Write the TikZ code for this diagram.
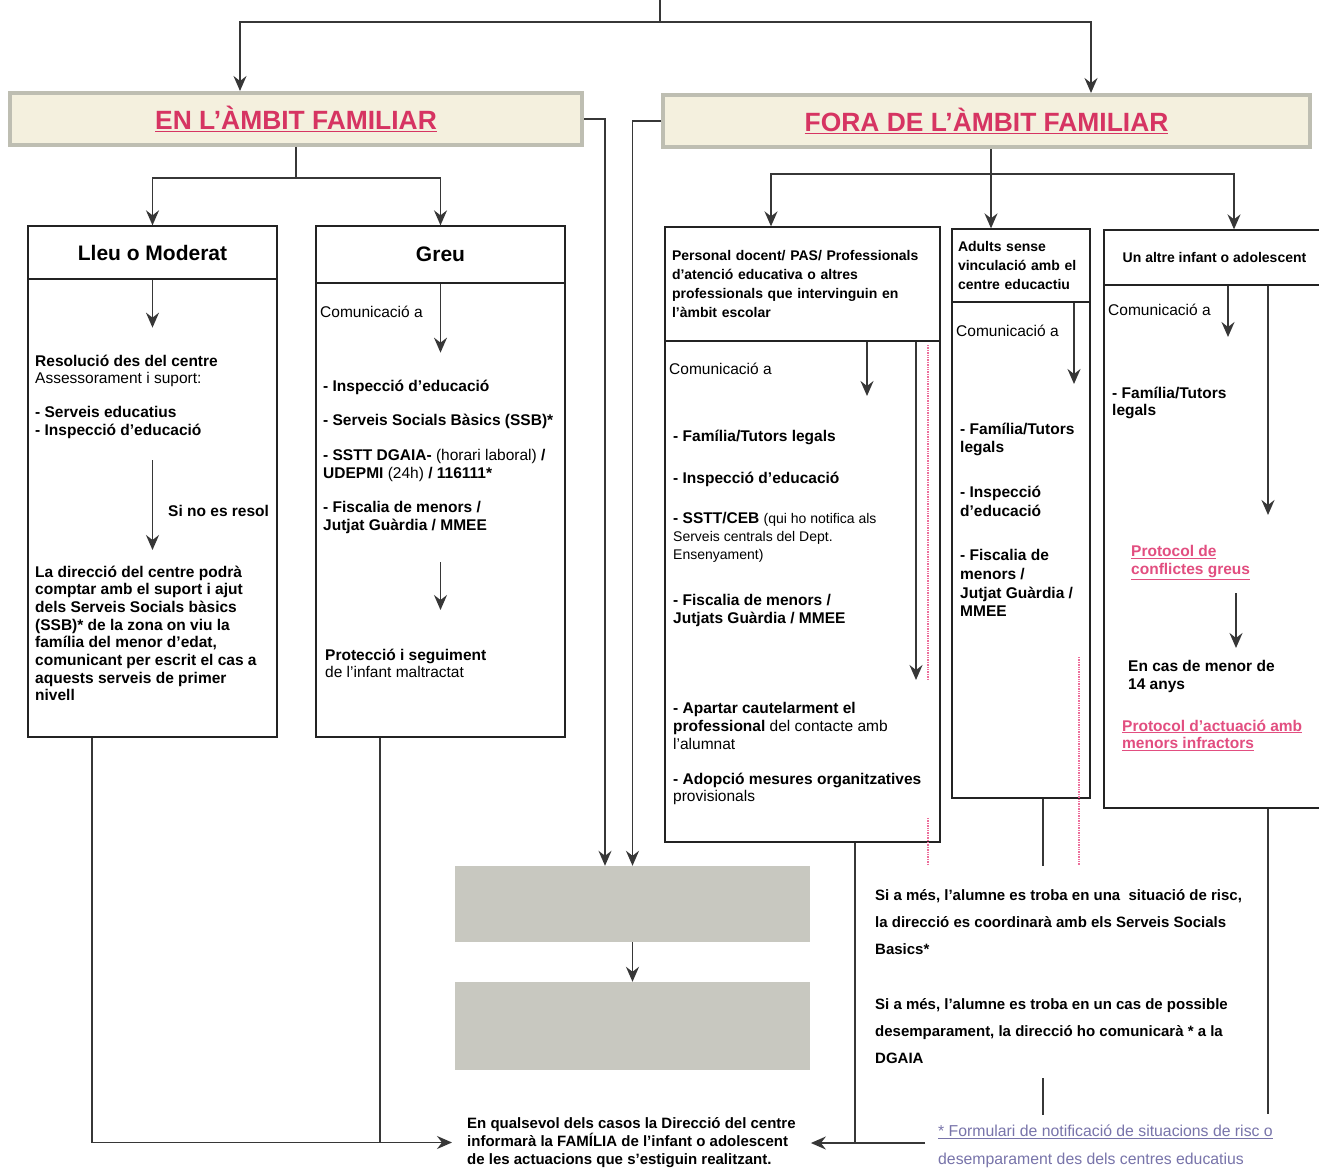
\documentclass[tikz,border=0pt]{standalone}
\usepackage{fontspec}
\setmainfont{Liberation Sans}
\usetikzlibrary{arrows.meta}

\definecolor{hdrred}{RGB}{214,52,98}
\definecolor{linkpink}{RGB}{226,78,128}
\definecolor{notepurple}{RGB}{120,116,170}
\definecolor{hdrfill}{RGB}{244,240,222}
\definecolor{hdredge}{RGB}{190,190,178}
\definecolor{greyfill}{RGB}{200,200,192}
\definecolor{linegrey}{RGB}{55,55,55}
\definecolor{boxline}{RGB}{35,35,35}
\definecolor{dotpink}{RGB}{236,110,155}

\newcommand\bodyfont{\fontsize{15.5}{17.7}\selectfont}
\newcommand\smallfont{\fontsize{14}{19}\selectfont\bfseries}
\newcommand\ttlfont{\fontsize{21}{25}\selectfont\bfseries}
\newcommand\hdrfont{\fontsize{26.4}{30}\selectfont\bfseries}
\newcommand\topstrut{\rule{0pt}{14pt}}

\begin{document}
\begin{tikzpicture}[x=1pt, y=-1pt,
  conn/.style = {draw=linegrey, line width=1.6pt},
  arr/.style = {conn, -{Stealth[length=15pt, width=13pt, inset=5pt]}},
  hdr/.style = {draw=hdredge, line width=4pt, fill=hdrfill,
    text=hdrred, font=\hdrfont, inner sep=0pt},
  ttl/.style = {draw=boxline, line width=1.3pt, inner sep=0pt, align=center},
  cell/.style = {draw=boxline, line width=1.3pt, inner sep=0pt},
  txt/.style = {anchor=north west, inner sep=0pt, align=left, yshift=-3.5pt,
    font=\bodyfont, execute at begin node=\topstrut},
  link/.style = {txt, text=linkpink, font=\bodyfont\bfseries},
  gbox/.style = {fill=greyfill, inner sep=0pt, minimum width=355pt},
  pinkdot/.style = {draw=dotpink, line width=2.2pt, dash pattern=on 1.4pt off 1pt}]

  \fill[white] (0,0) rectangle (1319,1169);
  \useasboundingbox (0,0) rectangle (1319,1169);

  % headers
  \node[hdr, minimum width=572pt, minimum height=52pt] (famhdr) at (296,119)
    {\underline{EN L'ÀMBIT FAMILIAR}};
  \node[hdr, minimum width=647pt, minimum height=52pt] (forahdr) at (986.5,121)
    {\underline{FORA DE L'ÀMBIT FAMILIAR}};

  \coordinate (top) at (660,0);
  \coordinate (split) at (660,22);
  \draw[conn] (top) -- (split);
  \draw[arr] (split) -| ([xshift=-56pt]famhdr.north);
  \draw[arr] (split) -| ([xshift=104.5pt]forahdr.north);

  % en l'ambit familiar
  \node[ttl, minimum width=249pt, minimum height=53pt, font=\ttlfont] (lleu) at (152.5,252.5) {Lleu o Moderat};
  \node[cell, minimum width=249pt, minimum height=458pt] (lleubody) at (152.5,508) {};
  \node[ttl, minimum width=249pt, minimum height=57pt, font=\ttlfont] (greu) at (440.5,254.5) {Greu};
  \node[cell, minimum width=249pt, minimum height=454pt] (greubody) at (440.5,510) {};

  \draw[conn] (famhdr.south) -- ++(0,31) coordinate (famsplit);
  \draw[arr] (famsplit) -| (lleu.north);
  \draw[arr] (famsplit) -| (greu.north);

  \draw[arr] (lleu.south) -- ++(0,48);
  \node[txt] (lleures) at (35,351) {\textbf{Resolució des del centre}\\
    Assessorament i suport:\\[16pt]
    \textbf{- Serveis educatius}\\
    \textbf{- Inspecció d’educació}};
  \coordinate (lleuA) at (152.5,460);
  \coordinate (lleuB) at (152.5,550);
  \draw[arr] (lleuA) -- (lleuB);
  \node[txt, font=\bodyfont\bfseries] (resol) at (168,499) {Si no es resol};
  \node[txt, font=\bodyfont\bfseries] (lleudir) at (35,562) {La direcció del centre podrà\\
    comptar amb el suport i ajut\\
    dels Serveis Socials bàsics\\
    (SSB)* de la zona on viu la\\
    família del menor d’edat,\\
    comunicant per escrit el cas a\\
    aquests serveis de primer\\
    nivell};

  \draw[arr] (greu.south) -- ++(0,69);
  \node[txt] (greucom) at (320,300) {Comunicació a};
  \node[txt] (greulist) at (323,376) {\textbf{- Inspecció d'educació}\\[17pt]
    \textbf{- Serveis Socials Bàsics (SSB)*}\\[17pt]
    \textbf{- SSTT DGAIA-} (horari laboral) \textbf{/}\\
    \textbf{UDEPMI} (24h) \textbf{/ 116111*}\\[17pt]
    \textbf{- Fiscalia de menors /}\\
    \textbf{Jutjat Guàrdia / MMEE}};
  \coordinate (greuA) at (440.5,562);
  \coordinate (greuB) at (440.5,610);
  \draw[arr] (greuA) -- (greuB);
  \node[txt] (greuprot) at (325,645) {\textbf{Protecció i seguiment}\\
    de l'infant maltractat};

  % fora de l'ambit familiar
  \node[ttl, minimum width=275pt, minimum height=114pt, text width=261pt, align=left,
    inner xsep=7pt, font=\smallfont] (pers) at (802.5,284)
    {Personal docent/ PAS/ Professionals\\
     d'atenció educativa o altres\\
     professionals que intervinguin en\\
     l'àmbit escolar};
  \node[cell, minimum width=275pt, minimum height=501pt] (persbody) at (802.5,591.5) {};
  \node[ttl, minimum width=138pt, minimum height=73pt, text width=126pt, align=left,
    inner xsep=6pt, font=\smallfont] (adults) at (1021,265.5)
    {Adults sense\\ vinculació amb el\\ centre educactiu};
  \node[cell, minimum width=138pt, minimum height=496pt] (adultsbody) at (1021,550) {};
  \node[ttl, minimum width=221pt, minimum height=55pt, font=\smallfont] (altre) at (1214.5,257.5)
    {Un altre infant o adolescent};
  \node[cell, minimum width=221pt, minimum height=523pt] (altrebody) at (1214.5,546.5) {};

  \draw[conn] ([xshift=4.5pt]forahdr.south) -- ++(0,25) coordinate (forasplit);
  \draw[arr] (forasplit) -| ([xshift=-31.5pt]pers.north);
  \draw[arr] (forasplit) -- (forasplit |- adults.north);
  \draw[arr] (forasplit) -| ([xshift=19.5pt]altre.north);

  \coordinate (persA) at (867,396);
  \coordinate (persB) at (916,680);
  \draw[arr] (pers.south -| persA) -- (persA);
  \draw[arr] (pers.south -| persB) -- (persB);
  \draw[pinkdot] (928,345) -- (928,680);
  \draw[pinkdot] (928,818) -- (928,865);
  \node[txt] (perscom) at (669,357) {Comunicació a};
  \node[txt] (persfam) at (673,424) {\textbf{- Família/Tutors legals}};
  \node[txt] (persinsp) at (673,466) {\textbf{- Inspecció d'educació}};
  \node[txt] (perssstt) at (673,509) {\textbf{- SSTT/CEB} {\fontsize{14}{17.7}\selectfont(qui ho notifica als}\\
    {\fontsize{14}{17.7}\selectfont Serveis centrals del Dept.}\\
    {\fontsize{14}{17.7}\selectfont Ensenyament)}};
  \node[txt] (persfisc) at (673,591) {\textbf{- Fiscalia de menors /}\\
    \textbf{Jutjats Guàrdia / MMEE}};
  \node[txt] (persapart) at (673,699) {\textbf{- Apartar cautelarment el}\\
    \textbf{professional} del contacte amb\\
    l'alumnat};
  \node[txt] (persadop) at (673,769) {\textbf{- Adopció mesures organitzatives}\\
    provisionals};

  \coordinate (adA) at (1074,384);
  \draw[arr] (adults.south -| adA) -- (adA);
  \draw[pinkdot] (1079,657) -- (1079,865);
  \node[txt] (adcom) at (956,319) {Comunicació a};
  \node[txt, font=\fontsize{15.5}{18.7}\selectfont\bfseries] (adlist) at (960,419)
    {- Família/Tutors\\ legals\\[26pt]
     - Inspecció\\ d'educació\\[26pt]
     - Fiscalia de\\ menors /\\ Jutjat Guàrdia /\\ MMEE};

  \coordinate (altA) at (1228,337);
  \coordinate (altB) at (1268,515);
  \draw[arr] (altre.south -| altA) -- (altA);
  \draw[arr] (altre.south -| altB) -- (altB);
  \node[txt] (altcom) at (1108,298) {Comunicació a};
  \node[txt, font=\bodyfont\bfseries] (altfam) at (1112,383) {- Família/Tutors\\ legals};
  \node[link] (altconf) at (1131,542) {\underline{Protocol de}\\ \underline{conflictes greus}};
  \coordinate (altC) at (1236,593);
  \coordinate (altD) at (1236,648);
  \draw[arr] (altC) -- (altD);
  \node[txt, font=\bodyfont\bfseries] (altmenor) at (1128,657) {En cas de menor de\\ 14 anys};
  \node[link] (altinfr) at (1122,716) {\underline{Protocol d'actuació amb}\\ \underline{menors infractors}};

  % risc i desemparament
  \node[txt, font=\fontsize{15}{27}\selectfont\bfseries] (risc) at (875,886)
    {Si a més, l'alumne es troba en una\ \ situació de risc,\\
     la direcció es coordinarà amb els Serveis Socials\\
     Basics*};
  \node[txt, font=\fontsize{15}{27}\selectfont\bfseries] (desemp) at (875,995)
    {Si a més, l'alumne es troba en un cas de possible\\
     desemparament, la direcció ho comunicarà * a la\\
     DGAIA};
  \node[txt, text=notepurple, font=\fontsize{15.8}{28}\selectfont] (note) at (938,1121)
    {\underline{* Formulari de notificació de situacions de risc o}\\
     \underline{desemparament des dels centres educatius}};
  \coordinate (noteA) at (1043,1078);
  \coordinate (noteB) at (1043,1115);
  \draw[conn] (noteA) -- (noteB);

  % caixes grises
  \node[gbox, minimum height=76pt] (gbox1) at (632.5,904) {};
  \node[gbox, minimum height=88pt] (gbox2) at (632.5,1026) {};
  \draw[arr] (famhdr.east) -| ([xshift=-27.5pt]gbox1.north);
  \draw[arr] (forahdr.west) -| (gbox1.north);
  \draw[arr] (gbox1) -- (gbox2);

  % familia
  \node[txt, inner xsep=15pt, font=\fontsize{15}{17.7}\selectfont\bfseries] (final) at (452,1114)
    {En qualsevol dels casos la Direcció del centre\\
     informarà la FAMÍLIA de l'infant o adolescent\\
     de les actuacions que s'estiguin realitzant.};
  \draw[arr] ([xshift=-60.5pt]lleubody.south) |- (final.west);
  \draw[conn] ([xshift=-60.5pt]greubody.south) -- ([xshift=-60.5pt]greubody.south |- final.west);
  \coordinate (noteleft) at (925,1143);
  \draw[arr] (noteleft) -- (final.east |- noteleft);
  \draw[conn] ([xshift=52.5pt]persbody.south) -- ([xshift=52.5pt]persbody.south |- noteleft);
  \draw[conn] ([xshift=22pt]adultsbody.south) -- ++(0,67);
  \draw[conn] ([xshift=53.5pt]altrebody.south) -- ++(0,305);
\end{tikzpicture}
\end{document}
